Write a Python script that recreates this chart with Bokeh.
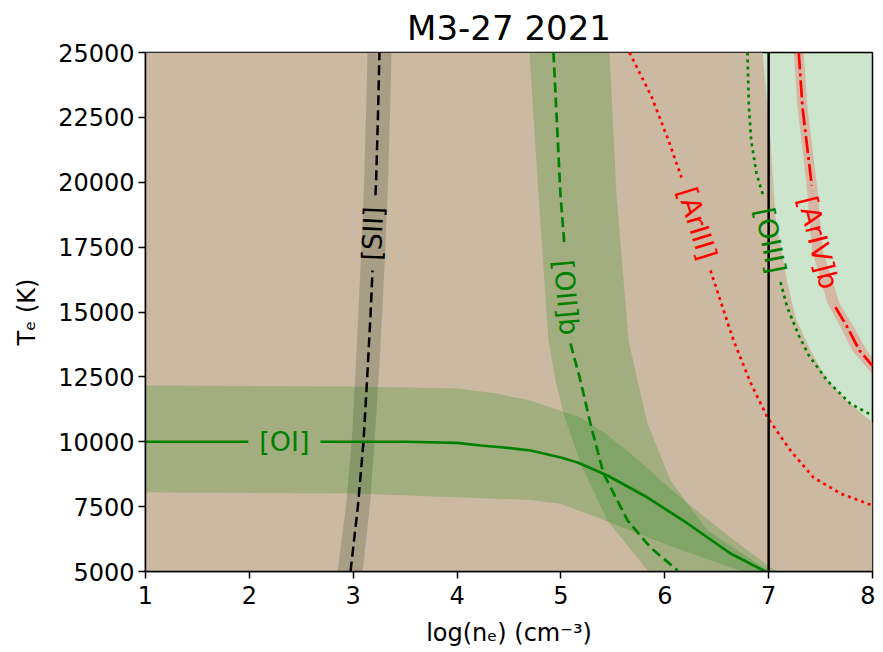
import math
from bokeh.plotting import figure
from bokeh.models import Range1d, FixedTicker
from bokeh.core.properties import value
from bokeh.embed import file_html
from bokeh.resources import INLINE

nan = float("nan")

title_text = "M3-27 2021"
x_label = "log(nₑ) (cm⁻³)"
y_label = "Tₑ (K)"
x_ticks = [1, 2, 3, 4, 5, 6, 7, 8]
y_ticks = [5000, 7500, 10000, 12500, 15000, 17500, 20000, 22500, 25000]
x_lim = (1, 8)
y_lim = (5000, 25000)

# edge of the upper-right region covered by a single band
edge_ne = [6.941, 7.018, 7.066, 7.182, 7.259, 7.403, 7.567, 7.769, 8.0]
edge_te = [25000, 21609, 18642, 16098, 14788, 13516, 12360, 11512, 10742]

# [SII]
sii_te = [5000, 7500, 10000, 12500, 15000, 16600, nan, 19500, 20000, 22500, 25000]
sii_ne = [2.974, 3.045, 3.099, 3.135, 3.168, 3.186, nan, 3.214, 3.22, 3.238, 3.253]
sii_band_te = [5000, 7500, 10000, 12500, 15000, 17500, 20000, 22500, 25000]
sii_band_lo = [2.85, 2.93, 2.985, 3.02, 3.05, 3.08, 3.105, 3.122, 3.138]
sii_band_hi = [3.09, 3.16, 3.205, 3.245, 3.28, 3.31, 3.335, 3.353, 3.369]

# [OII]b
oii_te = [25000, 19566, 17562, nan, 13786, 12360, 10703, 8776, 6965, 5925, 5039]
oii_ne = [4.928, 4.995, 5.034, nan, 5.092, 5.188, 5.284, 5.410, 5.642, 5.862, 6.124]
oii_left_ne = [4.697, 4.784, 4.880, 4.948, 5.025, 5.188, 5.448, 5.834, 5.84]
oii_left_te = [25000, 19500, 13902, 12360, 11088, 9162, 6965, 5039, 5000]
oii_right_ne = [5.468, 5.535, 5.651, 5.737, 5.834, 6.055, 6.411, 6.950, 7.03]
oii_right_te = [25000, 19500, 13902, 12360, 10703, 8507, 6580, 5154, 5000]

# [OI]
oi_ne = [1, 1.99, nan, 2.685, 3.5, 4.0, 4.226, 4.45, 4.707, 5.0, 5.160, 5.448, 5.834, 6.219, 6.633, 6.951, 6.97]
oi_te = [10000, 10000, nan, 10000, 10000, 9960, 9855, 9778, 9663, 9393, 9200, 8700, 7851, 6850, 5694, 5039, 5000]
oi_up_ne = [1, 3, 4, 4.35, 4.707, 5.188, 5.43, 5.670, 6.151, 6.633, 7.018, 7.1]
oi_up_te = [12168, 12130, 12050, 11880, 11590, 10934, 10318, 9547, 7851, 6310, 5154, 5000]
oi_lo_ne = [1, 3, 4, 4.707, 5.0, 5.352, 5.988, 6.633, 6.77]
oi_lo_te = [8056, 8005, 7863, 7760, 7600, 7080, 6079, 5154, 5000]

# [ArIII]
ar3_te = [25000, 23304, 21609, 20183, nan, 16599, 13902, 12283, 10934, 9663, 8622, 8005, 7543]
ar3_ne = [5.660, 5.872, 6.036, 6.161, nan, 6.440, 6.662, 6.825, 6.989, 7.21, 7.432, 7.692, 8.0]

# [OIII]
o3_te = [25000, 22892, 21609, 20337, 19489, nan, 16149, 15185, 14094, 13324, 12360, 11462, 11012]
o3_ne = [6.796, 6.81, 6.832, 6.883, 6.947, nan, 7.114, 7.179, 7.29, 7.387, 7.563, 7.788, 8.0]

# [ArIV]b
ar4_te = [25000, 22880, 19875, nan, 15185, 14403, 13516, 13015, 12930]
ar4_ne = [7.29, 7.326, 7.415, nan, 7.644, 7.759, 7.875, 7.981, 8.0]
ar4_band_te = [25000, 22880, 19875, 17370, 15327, 14403, 13516, 12930, 12400]
ar4_band_lo = [7.242, 7.278, 7.365, 7.418, 7.567, 7.694, 7.805, 7.93, 8.04]
ar4_band_hi = [7.338, 7.374, 7.465, 7.522, 7.683, 7.824, 7.945, 8.07, 8.18]

# density limit
ne_limit = 7.0

# inline labels
lab_text = ["[SII]", "[OII]b", "[ArIII]", "[OIII]", "[ArIV]b", "[OI]"]
lab_ne = [3.186, 5.054, 6.315, 7.018, 7.48, 2.338]
lab_te = [18025, 15559, 18410, 17755, 17678, 10000]
lab_deg = [87.6, -85, -73, -79, -76, 0]
lab_color = ["black", "green", "red", "green", "red", "green"]

FONT = "DejaVu Sans"
TAN = "#cbb9a1"
LIGHT = "#cce5cc"

p = figure(frame_width=727, frame_height=519,
           min_border_left=145, min_border_right=3, min_border_top=44, min_border_bottom=73,
           x_range=Range1d(*x_lim), y_range=Range1d(*y_lim),
           output_backend="svg", toolbar_location=None, title=title_text)
p.background_fill_color = LIGHT
p.border_fill_color = "white"
p.xgrid.visible = False
p.ygrid.visible = False
p.outline_line_color = "black"
p.outline_line_width = 1.5
p.outline_line_alpha = 1

p.title.text_font = FONT
p.title.text_font_size = "34px"
p.title.text_font_style = "normal"
p.title.align = "center"
p.title.text_color = "black"

# covered region
p.patch([x_lim[0], x_lim[0]] + edge_ne + [x_lim[1]],
        [y_lim[0], y_lim[1]] + edge_te + [y_lim[0]],
        fill_color=TAN, line_color=None)

# bands
p.harea(y=sii_band_te, x1=sii_band_lo, x2=sii_band_hi, fill_color="#001a00", fill_alpha=0.17)
p.patch(oii_left_ne + oii_right_ne[::-1], oii_left_te + oii_right_te[::-1],
        fill_color="green", fill_alpha=0.2, line_color=None)
p.patch(oi_up_ne + oi_lo_ne[::-1], oi_up_te + oi_lo_te[::-1],
        fill_color="green", fill_alpha=0.2, line_color=None)
p.harea(y=ar4_band_te, x1=ar4_band_lo, x2=ar4_band_hi, fill_color="red", fill_alpha=0.2)

# lines
p.line(sii_ne, sii_te, line_color="black", line_width=2.5, line_dash="10 5")
p.line(oii_ne, oii_te, line_color="green", line_width=2.7, line_dash="10 5")
p.line(oi_ne, oi_te, line_color="green", line_width=2.7)
p.line(ar3_ne, ar3_te, line_color="red", line_width=2.7, line_dash="3 4")
p.line(o3_ne, o3_te, line_color="green", line_width=2.7, line_dash="3 4")
p.line(ar4_ne, ar4_te, line_color="red", line_width=2.7, line_dash="17 4 3 4")
p.segment(x0=[ne_limit], y0=[y_lim[0]], x1=[ne_limit], y1=[y_lim[1]],
          line_color="black", line_width=2.5)

p.text(x=lab_ne, y=lab_te, text=lab_text, angle=[math.radians(a) for a in lab_deg],
       text_color=lab_color, text_font=value(FONT), text_font_size="27px",
       text_align="center", text_baseline="middle")

p.xaxis.ticker = FixedTicker(ticks=x_ticks)
p.yaxis.ticker = FixedTicker(ticks=y_ticks)
p.axis.major_label_text_font = FONT
p.axis.major_label_text_font_size = "24px"
p.axis.major_label_text_color = "black"
p.axis.axis_line_width = 1.5
p.axis.axis_line_color = "black"
p.axis.major_tick_line_width = 1.5
p.axis.major_tick_line_color = "black"
p.axis.major_tick_out = 7
p.axis.major_tick_in = 0
p.axis.minor_tick_line_color = None
p.yaxis.major_label_standoff = 4
p.xaxis.major_label_standoff = 7
p.xaxis.axis_label = x_label
p.yaxis.axis_label = y_label
p.axis.axis_label_text_font = FONT
p.axis.axis_label_text_font_size = "24px"
p.axis.axis_label_text_font_style = "normal"
p.axis.axis_label_text_color = "black"
p.yaxis.axis_label_standoff = 14
p.xaxis.axis_label_standoff = 12

open("out.html", "w").write(file_html(p, INLINE))
